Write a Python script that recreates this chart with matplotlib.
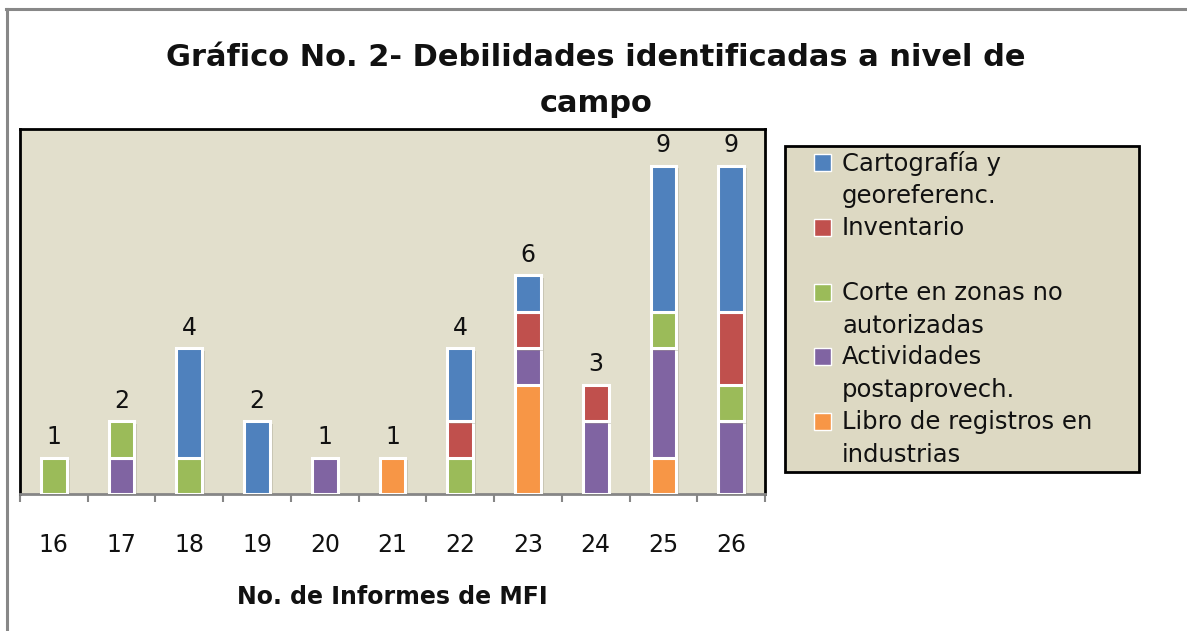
import matplotlib.pyplot as plt
import matplotlib.patheffects as pe
from matplotlib.lines import Line2D
from matplotlib.patches import Rectangle
import numpy as np

# Datos del gráfico
informes = ["16", "17", "18", "19", "20", "21", "22", "23", "24", "25", "26"]
libro = [0, 0, 0, 0, 0, 1, 0, 3, 0, 1, 0]
actividades = [0, 1, 0, 0, 1, 0, 0, 1, 2, 3, 2]
corte = [1, 1, 1, 0, 0, 0, 1, 0, 0, 1, 1]
inventario = [0, 0, 0, 0, 0, 0, 1, 1, 1, 0, 2]
cartografia = [0, 0, 3, 2, 0, 0, 2, 1, 0, 4, 4]

# orden de apilado (de abajo hacia arriba)
series = [
    ("Libro de registros en\nindustrias", libro, "#F79646"),
    ("Actividades\npostaprovech.", actividades, "#8064A2"),
    ("Corte en zonas no\nautorizadas", corte, "#9BBB59"),
    ("Inventario\n", inventario, "#C0504D"),
    ("Cartografía y\ngeoreferenc.", cartografia, "#4F81BD"),
]

W, H = 1187, 631
fig = plt.figure(figsize=(W / 100, H / 100), dpi=100)
fig.patch.set_facecolor("white")

ax = fig.add_axes([20 / W, (H - 494) / H, 745 / W, (494 - 129) / H])
ax.set_facecolor("#E2DFCC")

x = np.arange(len(informes))
bottom = np.zeros(len(informes))
shadow = [pe.SimplePatchShadow(offset=(2, -2), shadow_rgbFace="#9a9784", alpha=0.35), pe.Normal()]
for label, vals, color in series:
    vals = np.array(vals, dtype=float)
    idx = vals > 0
    bars = ax.bar(x[idx], vals[idx], bottom=bottom[idx], width=0.38, color=color,
                  edgecolor="white", linewidth=2.2, zorder=3)
    for b in bars:
        b.set_path_effects(shadow)
    bottom += vals

# etiquetas de totales
for xi, tot in zip(x, bottom):
    ax.annotate(f"{int(tot)}", (xi, tot), xytext=(0, 6), textcoords="offset points",
                ha="center", va="bottom", fontsize=17, family="DejaVu Sans", color="#111111")

ax.set_xlim(-0.5, len(informes) - 0.5)
ax.set_ylim(0, 10)
ax.set_yticks([])
ax.set_xticks(x)
ax.set_xticklabels(informes, fontsize=17, family="DejaVu Sans", color="#111111")
ax.set_xticks(np.arange(-0.5, len(informes)), minor=True)
ax.tick_params(axis="x", which="major", length=0, pad=28)
ax.tick_params(axis="x", which="minor", length=6, width=1.5, color="#868686")

for s in ["left", "top", "right"]:
    ax.spines[s].set_color("black")
    ax.spines[s].set_linewidth(2)
ax.spines["bottom"].set_color("#868686")
ax.spines["bottom"].set_linewidth(2)

ax.set_xlabel("No. de Informes de MFI", fontsize=17, fontweight="bold", family="DejaVu Sans",
              labelpad=20, color="#111111")

fig.text(596 / W, 1 - 58 / H, "Gráfico No. 2- Debilidades identificadas a nivel de",
         ha="center", va="center", fontsize=22, fontweight="bold", family="DejaVu Sans",
         color="#111111")
fig.text(596 / W, 1 - 103 / H, "campo",
         ha="center", va="center", fontsize=22, fontweight="bold", family="DejaVu Sans",
         color="#111111")

# leyenda dibujada a mano (cuadro alineado con la primera línea)
fig.patches.append(Rectangle((785 / W, 1 - 472 / H), (1139 - 785) / W, (472 - 146) / H,
                             transform=fig.transFigure, facecolor="#DDD9C3",
                             edgecolor="black", linewidth=2, zorder=1))
y0 = 163
for i, (label, vals, color) in enumerate(reversed(series)):
    yc = y0 + i * 64.8
    fig.patches.append(Rectangle((814 / W, 1 - (yc + 8) / H), 17 / W, 17 / H,
                                 transform=fig.transFigure, facecolor=color,
                                 edgecolor="white", linewidth=1, zorder=2))
    for j, line in enumerate(label.split("\n")):
        fig.text(842 / W, 1 - (yc + j * 33) / H, line, ha="left", va="center",
                 fontsize=17.5, family="DejaVu Sans", color="#111111", zorder=3)

# marco gris exterior (solo arriba e izquierda)
fig.add_artist(Line2D([6 / W, 1], [1 - 8.5 / H, 1 - 8.5 / H], transform=fig.transFigure,
                      color="#888888", linewidth=2.2))
fig.add_artist(Line2D([7 / W, 7 / W], [0, 1 - 8.5 / H], transform=fig.transFigure,
                      color="#888888", linewidth=2.2))

fig.savefig("out.png", dpi=100)
